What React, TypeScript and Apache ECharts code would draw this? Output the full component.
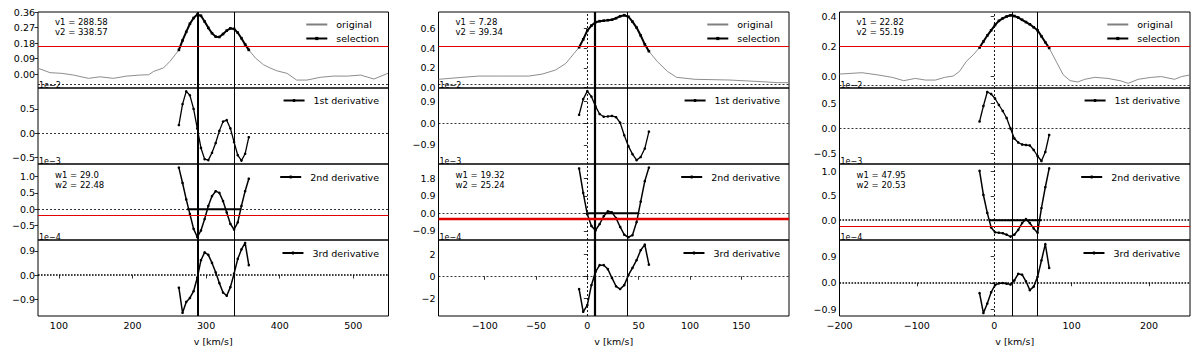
import { useEffect, useRef } from 'react';
import * as echarts from 'echarts';

// ---------- Column 1 ----------
const selX1 = [263, 268, 273, 278, 283, 288, 293, 298, 303, 308, 313, 318, 323, 328, 333, 338, 343, 348, 353, 358];
const selY1 = [0.14, 0.195, 0.245, 0.292, 0.325, 0.345, 0.338, 0.305, 0.268, 0.237, 0.217, 0.215, 0.232, 0.252, 0.265, 0.262, 0.24, 0.208, 0.172, 0.14];
const origLX1 = [72, 88, 104, 120, 140, 156, 174, 192, 210, 222, 229, 242, 251, 258];
const origLY1 = [0.033, 0.008, 0.004, -0.006, -0.025, -0.016, -0.025, -0.012, -0.006, -0.004, 0.016, 0.035, 0.074, 0.112];
const origRX1 = [367, 378, 387, 396, 410, 423, 437, 455, 473, 492, 510, 528, 547];
const origRY1 = [0.093, 0.054, 0.035, 0.019, 0.004, -0.035, -0.035, -0.019, -0.012, -0.012, -0.006, -0.029, 0.004];
const der1A = [0.17, 0.6, 0.86, 0.78, 0.5, 0.1, -0.3, -0.53, -0.55, -0.4, -0.2, 0.05, 0.24, 0.27, 0.1, -0.18, -0.45, -0.56, -0.42, -0.08];
const der2A = [1.27, 0.8, 0.3, -0.15, -0.6, -0.85, -0.65, -0.3, 0.1, 0.4, 0.55, 0.5, 0.25, -0.1, -0.45, -0.62, -0.4, 0.1, 0.55, 0.93];
const der3A = [-0.47, -1.4, -1.0, -0.85, -0.6, -0.1, 0.55, 0.84, 0.75, 0.45, 0.1, -0.3, -0.65, -0.77, -0.45, 0.05, 0.6, 0.95, 1.19, 0.37];
const segX1 = [274, 348];

// ---------- Column 2 ----------
const selX2 = [-8, -4, 0, 4, 8, 12, 16, 20, 24, 28, 32, 36, 40, 44, 48, 52, 56, 60];
const selY2 = [0.41, 0.49, 0.58, 0.63, 0.665, 0.675, 0.68, 0.685, 0.69, 0.705, 0.725, 0.735, 0.72, 0.67, 0.61, 0.53, 0.44, 0.37];
const origLX2 = [-145, -122, -106, -83, -57, -44, -31, -21, -13];
const origLY2 = [0.085, 0.105, 0.118, 0.118, 0.118, 0.138, 0.179, 0.246, 0.347];
const origRX2 = [68, 78, 87, 105, 138, 170, 186, 196.5];
const origRY2 = [0.267, 0.166, 0.105, 0.085, 0.078, 0.061, 0.051, 0.051];
const der1B = [0.35, 1.0, 1.33, 1.1, 0.7, 0.38, 0.27, 0.28, 0.3, 0.25, 0.02, -0.5, -0.95, -1.28, -1.53, -1.4, -1.05, -0.35];
const der2B = [2.3, 1.05, -0.05, -0.65, -0.88, -0.55, -0.15, 0.1, 0.05, -0.25, -0.7, -1.1, -1.23, -1.12, -0.45, 0.6, 1.65, 2.35];
const der3B = [-1.15, -3.2, -2.6, -0.8, 0.4, 1.0, 1.0, 0.65, -0.15, -0.9, -1.15, -0.8, 0.1, 0.75, 1.45, 2.35, 2.85, 1.05];
const segX2 = [0, 50];

// ---------- Column 3 ----------
const selX3 = [-19, -14, -9, -4, 1, 6, 11, 16, 21, 26, 31, 36, 41, 46, 51, 56, 61, 66, 71];
const selY3 = [0.19, 0.23, 0.27, 0.305, 0.34, 0.368, 0.385, 0.397, 0.405, 0.4, 0.39, 0.375, 0.36, 0.345, 0.325, 0.305, 0.265, 0.225, 0.187];
const origLX3 = [-200, -171, -150, -132, -117, -102, -89, -76, -64, -53, -45, -36, -27];
const origLY3 = [0.013, 0.022, 0.007, -0.009, -0.031, -0.016, -0.027, -0.027, -0.009, 0, 0.03, 0.098, 0.142];
const origRX3 = [80, 89, 98, 108, 117, 130, 147, 164, 173, 186, 203, 216, 233, 242, 253];
const origRY3 = [0.098, 0.009, -0.031, -0.04, -0.022, -0.009, -0.016, -0.033, -0.049, -0.022, -0.009, -0.004, -0.022, -0.004, 0.007];
const der1C = [0.14, 0.45, 0.73, 0.69, 0.6, 0.47, 0.35, 0.21, 0.0, -0.2, -0.28, -0.32, -0.33, -0.34, -0.43, -0.55, -0.65, -0.47, -0.13];
const der2C = [1.02, 0.52, 0.15, -0.15, -0.25, -0.26, -0.27, -0.3, -0.34, -0.3, -0.2, -0.06, 0.02, -0.06, -0.17, -0.26, 0.25, 0.68, 1.07];
const der3C = [-0.35, -1.02, -0.7, -0.32, -0.08, -0.02, -0.01, -0.03, -0.06, 0.08, 0.3, 0.27, 0.05, -0.25, -0.13, 0.2, 0.75, 1.3, 0.5];
const segX3 = [-7, 61];

// ---------- annotations ----------
const v1Vals = ['288.58', '7.28', '22.82'];
const v2Vals = ['338.57', '39.34', '55.19'];
const w1Vals = ['29.0', '19.32', '47.95'];
const w2Vals = ['22.48', '25.24', '20.53'];
const redTop = [0.161, 0.418, 0.198];
const redSecond = [-0.183, -0.277, -0.118];
const dotTop = [-0.06, 0.034, -0.055];
const offsetLabels = ['1e\u22122', '1e\u22123', '1e\u22124'];
const legendNames = [['original', 'selection'], ['1st derivative'], ['2nd derivative'], ['3rd derivative']];

// ---------- axes ----------
const xTicks1 = [100, 200, 300, 400, 500];
const xTicks2 = [-100, -50, 0, 50, 100, 150];
const xTicks3 = [-200, -100, 0, 100, 200];
const xRanges = [[71.6, 547.8], [-145, 196.5], [-200, 253]];
const yTicks1 = [[0, 0.09, 0.18, 0.27, 0.36], [-0.5, 0, 0.5], [-0.5, 0, 0.5, 1.0], [-0.9, 0, 0.9]];
const yTicks2 = [[0, 0.2, 0.4, 0.6], [-0.9, 0, 0.9], [-0.9, 0, 0.9, 1.8], [-2, 0, 2]];
const yTicks3 = [[0, 0.2, 0.4], [-0.5, 0, 0.5], [0, 0.5, 1.0], [-0.9, 0, 0.9]];
const yRanges1 = [[-0.081, 0.36], [-0.63, 0.93], [-0.94, 1.38], [-1.52, 1.3]];
const yRanges2 = [[-0.003, 0.768], [-1.69, 1.46], [-1.37, 2.53], [-3.58, 3.27]];
const yRanges3 = [[-0.08, 0.427], [-0.71, 0.81], [-0.41, 1.16], [-1.12, 1.44]];
const yDecimals = [[2, 1, 1, 1], [1, 1, 1, 0], [1, 1, 1, 1]];

const FONT = 'DejaVu Sans';
const FS = 9.5;
const COL_LEFT = [38, 438.5, 839.5];
const COL_W = 350.5;
const PANEL_TOP = [12, 88, 164, 240];
const PANEL_H = 76;
const LEGEND_RIGHT = [821, 420, 20];
const LEGEND_TOP = [19.5, 95.5, 172, 248];

const zip = (xs: number[], ys: number[]) => xs.map((x, i) => [x, ys[i]]);
const fmt = (v: number, d: number) => v.toFixed(d).replace('-', '\u2212');

export default function App() {
  const ref = useRef<HTMLDivElement>(null);
  useEffect(() => {
    document.body.style.margin = '0';
    if (!ref.current) return;
    const chart = echarts.init(ref.current, undefined, { renderer: 'svg' });

    const cols = [
      { selX: selX1, selY: selY1, oLX: origLX1, oLY: origLY1, oRX: origRX1, oRY: origRY1, d: [der1A, der2A, der3A], seg: segX1, xt: xTicks1, yt: yTicks1, yr: yRanges1, v1: 288.58, v2: 338.57, v1w: 2, zero: false, zeroStyle: [[2, 2], 0.8, [2, 2], 0.8, [1.6, 1.4], 1.6] },
      { selX: selX2, selY: selY2, oLX: origLX2, oLY: origLY2, oRX: origRX2, oRY: origRY2, d: [der1B, der2B, der3B], seg: segX2, xt: xTicks2, yt: yTicks2, yr: yRanges2, v1: 7.28, v2: 39.34, v1w: 2.2, zero: true, zeroStyle: [[2, 2], 0.8, [2, 2], 0.8, [2, 2], 0.8] },
      { selX: selX3, selY: selY3, oLX: origLX3, oLY: origLY3, oRX: origRX3, oRY: origRY3, d: [der1C, der2C, der3C], seg: segX3, xt: xTicks3, yt: yTicks3, yr: yRanges3, v1: 22.82, v2: 55.19, v1w: 1, zero: true, zeroStyle: [[2, 2], 0.8, [1.6, 1.4], 1.6, [1.6, 1.4], 1.6] },
    ];

    const grids: any[] = [];
    const xAxes: any[] = [];
    const yAxes: any[] = [];
    const series: any[] = [];
    const legends: any[] = [];
    const graphics: any[] = [];

    cols.forEach((c, ci) => {
      const vLines: any[] = [
        { xAxis: c.v1, lineStyle: { color: '#000', width: c.v1w, type: 'solid' } },
        { xAxis: c.v2, lineStyle: { color: '#000', width: 1, type: 'solid' } },
      ];
      if (c.zero) vLines.push({ xAxis: 0, lineStyle: { color: '#000', width: 0.9, type: [2, 2] } });
      const ml = (extra: any[]) => ({
        silent: true,
        symbol: ['none', 'none'],
        label: { show: false },
        emphasis: { disabled: true },
        animation: false,
        data: [...vLines, ...extra],
      });

      for (let p = 0; p < 4; p++) {
        const gi = ci * 4 + p;
        grids.push({
          left: COL_LEFT[ci], width: COL_W, top: PANEL_TOP[p], height: PANEL_H,
          show: true, borderColor: '#000', borderWidth: 1, backgroundColor: 'transparent',
        });
        const bottom = p === 3;
        xAxes.push({
          type: 'value', gridIndex: gi, min: xRanges[ci][0], max: xRanges[ci][1],
          axisLine: { show: false }, splitLine: { show: false },
          axisTick: { show: bottom, length: 3.5, lineStyle: { color: '#000', width: 0.8 }, customValues: c.xt },
          axisLabel: { show: bottom, customValues: c.xt, fontSize: FS, color: '#000', margin: 4, fontFamily: FONT, formatter: (v: number) => fmt(v, 0) },
          name: bottom ? 'v [km/s]' : '', nameLocation: 'middle', nameGap: 20,
          nameTextStyle: { fontSize: FS, color: '#000', fontFamily: FONT },
        });
        const dec = yDecimals[ci][p];
        yAxes.push({
          type: 'value', gridIndex: gi, min: c.yr[p][0], max: c.yr[p][1],
          axisLine: { show: false }, splitLine: { show: false },
          axisTick: { show: true, length: 3.5, lineStyle: { color: '#000', width: 0.8 }, customValues: c.yt[p] },
          axisLabel: { show: true, customValues: c.yt[p], fontSize: FS, color: '#000', margin: 3, fontFamily: FONT, formatter: (v: number) => fmt(v, dec) },
        });

        legends.push({
          orient: 'vertical', right: LEGEND_RIGHT[ci], top: LEGEND_TOP[p],
          itemWidth: 21, itemHeight: 4, itemGap: 4, padding: 0, selectedMode: false, align: 'left',
          data: legendNames[p].map((n) => (n === 'original' ? { name: n, itemStyle: { opacity: 0 } } : n)),
          textStyle: { fontSize: FS, color: '#000', fontFamily: FONT, padding: [0, 0, 0, 4] },
        });
      }

      const g0 = ci * 4;
      const origData = [...zip(c.oLX, c.oLY), ...zip(c.selX, c.selY), ...zip(c.oRX, c.oRY)];
      series.push({
        name: 'original', type: 'line', xAxisIndex: g0, yAxisIndex: g0, data: origData,
        symbol: 'none', lineStyle: { color: '#808080', width: 0.9 }, itemStyle: { color: '#808080' }, z: 2,
      });
      series.push({
        name: 'selection', type: 'line', xAxisIndex: g0, yAxisIndex: g0, data: zip(c.selX, c.selY),
        symbol: 'rect', symbolSize: 2.6, lineStyle: { color: '#000', width: 2 }, itemStyle: { color: '#000' }, z: 3,
        markLine: ml([
          { yAxis: redTop[ci], lineStyle: { color: '#e00000', width: 1, type: 'solid' } },
          { yAxis: dotTop[ci], lineStyle: { color: '#000', width: 0.8, type: [2, 2] } },
        ]),
      });
      const names = ['1st derivative', '2nd derivative', '3rd derivative'];
      for (let k = 0; k < 3; k++) {
        const gi = g0 + k + 1;
        const zt = c.zeroStyle[k * 2] as any;
        const zw = c.zeroStyle[k * 2 + 1] as number;
        const extra: any[] = [{ yAxis: 0, lineStyle: { color: '#000', width: zw, type: zt } }];
        if (k === 1) extra.push({ yAxis: redSecond[ci], lineStyle: { color: '#e00000', width: ci === 1 ? 2.4 : 1, type: 'solid' } });
        series.push({
          name: names[k], type: 'line', xAxisIndex: gi, yAxisIndex: gi, data: zip(c.selX, c.d[k]),
          symbol: 'circle', symbolSize: 2.6, lineStyle: { color: '#000', width: k === 0 ? 1.3 : 1.5 }, itemStyle: { color: '#000' }, z: 3,
          markLine: ml(extra),
        });
        if (k === 1) {
          series.push({
            name: 'zero segment', type: 'line', xAxisIndex: gi, yAxisIndex: gi,
            data: c.seg.map((x) => [x, 0]), symbol: 'none', lineStyle: { color: '#000', width: 2 }, z: 3,
          });
        }
      }

      const ax = COL_LEFT[ci] + 17;
      const txt = (x: number, y: number, t: string, fs = FS, va = 'middle') => ({
        type: 'text', x, y, silent: true, z: 10,
        style: { text: t, fontSize: fs, fontFamily: FONT, fill: '#000', verticalAlign: va, textVerticalAlign: va },
      });
      graphics.push(txt(ax, 22, 'v1 = ' + v1Vals[ci], 8.5));
      graphics.push(txt(ax, 32, 'v2 = ' + v2Vals[ci], 8.5));
      graphics.push(txt(ax, 174.5, 'w1 = ' + w1Vals[ci], 8.5));
      graphics.push(txt(ax, 184.5, 'w2 = ' + w2Vals[ci], 8.5));
      for (let p = 1; p < 4; p++) {
        graphics.push(txt(COL_LEFT[ci] + 1, PANEL_TOP[p] + 1, offsetLabels[p - 1], 8, 'bottom'));
      }
    });

    chart.setOption({
      animation: false,
      textStyle: { fontFamily: FONT },
      grid: grids,
      xAxis: xAxes,
      yAxis: yAxes,
      legend: legends,
      graphic: graphics,
      series,
    });
    return () => chart.dispose();
  }, []);
  return <div ref={ref} style={{ width: 1200, height: 352 }} />;
}
